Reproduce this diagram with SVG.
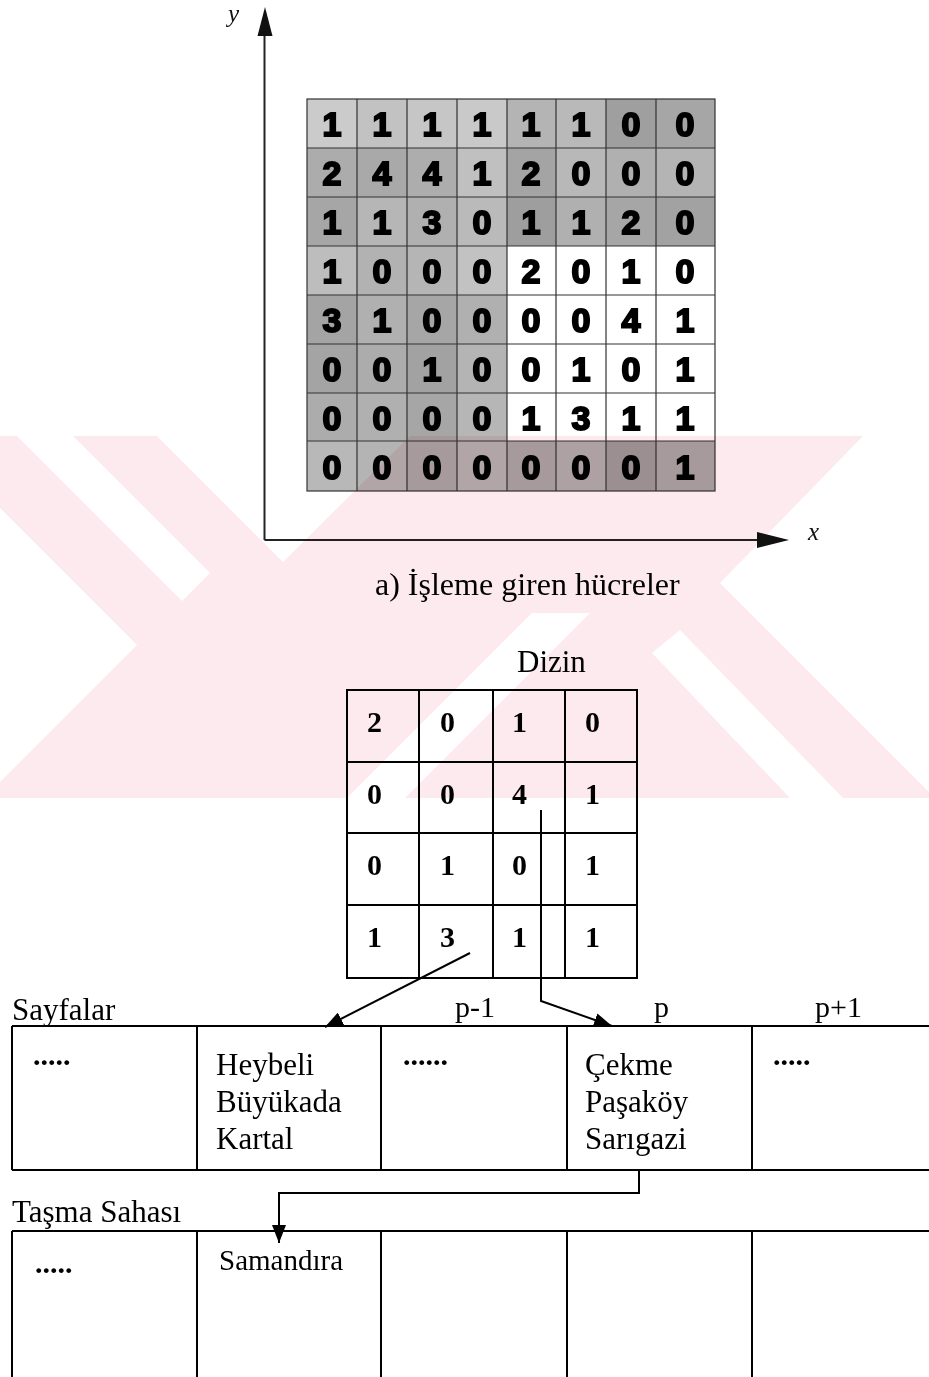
<svg xmlns="http://www.w3.org/2000/svg" width="929" height="1377" viewBox="0 0 929 1377">
<defs>
<style>
.t{font-family:"Liberation Serif","Times New Roman",serif;fill:#000}
.it{font-family:"Liberation Serif","Times New Roman",serif;font-style:italic;font-size:25px;fill:#111}
.g{font-family:"Liberation Sans",Arial,sans-serif;font-weight:bold;font-size:34px;fill:#000;stroke:#000;stroke-width:2;text-anchor:middle}
.d{font-family:"Liberation Serif","Times New Roman",serif;font-weight:bold;font-size:30px;fill:#000}
.ln{stroke:#000;stroke-width:2;fill:none}
.ax{stroke:#222;stroke-width:2;fill:none}
.gl{stroke:#333;stroke-width:1.2;fill:none}
.wm{fill:#fdeaee}
.wc{fill:#fff}
.dots{font-family:"Liberation Serif","Times New Roman",serif;font-weight:bold;font-size:30px}
</style>
<marker id="ah" markerUnits="userSpaceOnUse" markerWidth="18" markerHeight="14" refX="18" refY="7" orient="auto">
<path d="M0,0 L18,7 L0,14 z" fill="#000"/>
</marker>
</defs>
<rect width="929" height="1377" fill="#fff"/>

<g id="axes">
<line class="ax" x1="264.5" y1="34" x2="264.5" y2="540"/>
<line class="ax" x1="264.5" y1="540" x2="760" y2="540"/>
<polygon points="265,7 257.5,36 272.5,36" fill="#111"/>
<polygon points="789,540 757,532 757,548" fill="#111"/>
<text class="it" x="228" y="22">y</text>
<text class="it" x="808" y="540">x</text>
</g>

<g id="grid">
<g id="grid-cells">
<rect x="307" y="99" width="50" height="49" fill="#cbcbcb"/>
<rect x="357" y="99" width="50" height="49" fill="#c2c2c2"/>
<rect x="407" y="99" width="50" height="49" fill="#c6c6c6"/>
<rect x="457" y="99" width="50" height="49" fill="#c9c9c9"/>
<rect x="507" y="99" width="49" height="49" fill="#b4b4b4"/>
<rect x="556" y="99" width="50" height="49" fill="#b9b9b9"/>
<rect x="606" y="99" width="50" height="49" fill="#9f9f9f"/>
<rect x="656" y="99" width="59" height="49" fill="#a6a6a6"/>

<rect x="307" y="148" width="50" height="49" fill="#acacac"/>
<rect x="357" y="148" width="50" height="49" fill="#a9a9a9"/>
<rect x="407" y="148" width="50" height="49" fill="#adadad"/>
<rect x="457" y="148" width="50" height="49" fill="#c0c0c0"/>
<rect x="507" y="148" width="49" height="49" fill="#a4a4a4"/>
<rect x="556" y="148" width="50" height="49" fill="#b8b8b8"/>
<rect x="606" y="148" width="50" height="49" fill="#b0b0b0"/>
<rect x="656" y="148" width="59" height="49" fill="#b4b4b4"/>

<rect x="307" y="197" width="50" height="49" fill="#a6a6a6"/>
<rect x="357" y="197" width="50" height="49" fill="#b6b6b6"/>
<rect x="407" y="197" width="50" height="49" fill="#b0b0b0"/>
<rect x="457" y="197" width="50" height="49" fill="#bababa"/>
<rect x="507" y="197" width="49" height="49" fill="#9e9e9e"/>
<rect x="556" y="197" width="50" height="49" fill="#b0b0b0"/>
<rect x="606" y="197" width="50" height="49" fill="#a6a6a6"/>
<rect x="656" y="197" width="59" height="49" fill="#a2a2a2"/>

<rect x="307" y="246" width="50" height="49" fill="#bdbdbd"/>
<rect x="357" y="246" width="50" height="49" fill="#b2b2b2"/>
<rect x="407" y="246" width="50" height="49" fill="#b5b5b5"/>
<rect x="457" y="246" width="50" height="49" fill="#c2c2c2"/>

<rect x="307" y="295" width="50" height="49" fill="#a4a4a4"/>
<rect x="357" y="295" width="50" height="49" fill="#b0b0b0"/>
<rect x="407" y="295" width="50" height="49" fill="#a6a6a6"/>
<rect x="457" y="295" width="50" height="49" fill="#b0b0b0"/>

<rect x="307" y="344" width="50" height="49" fill="#a4a4a4"/>
<rect x="357" y="344" width="50" height="49" fill="#acacac"/>
<rect x="407" y="344" width="50" height="49" fill="#a2a2a2"/>
<rect x="457" y="344" width="50" height="49" fill="#b4b4b4"/>

<rect x="307" y="393" width="50" height="48" fill="#acacac"/>
<rect x="357" y="393" width="50" height="48" fill="#b0b0b0"/>
<rect x="407" y="393" width="50" height="48" fill="#a6a6a6"/>
<rect x="457" y="393" width="50" height="48" fill="#b6b6b6"/>

<rect x="307" y="441" width="50" height="50" fill="#b8b8b8"/>
<rect x="357" y="441" width="50" height="50" fill="#b4b4b4"/>
<rect x="407" y="441" width="50" height="50" fill="#a8a8a8"/>
<rect x="457" y="441" width="50" height="50" fill="#b4b4b4"/>
<rect x="507" y="441" width="49" height="50" fill="#a8a8a8"/>
<rect x="556" y="441" width="50" height="50" fill="#b0b0b0"/>
<rect x="606" y="441" width="50" height="50" fill="#9c9c9c"/>
<rect x="656" y="441" width="59" height="50" fill="#a8a8a8"/>
</g>
<g id="grid-lines">
<rect class="gl" x="307" y="99" width="408" height="392" stroke-width="1.6"/>
<path class="gl" d="M357,99V491 M407,99V491 M457,99V491 M507,99V491 M556,99V491 M606,99V491 M656,99V491 M307,148H715 M307,197H715 M307,246H715 M307,295H715 M307,344H715 M307,393H715 M307,441H715"/>
</g>
<g id="grid-digits">
<text class="g" x="332" y="136">1</text><text class="g" x="382" y="136">1</text><text class="g" x="432" y="136">1</text><text class="g" x="482" y="136">1</text><text class="g" x="531" y="136">1</text><text class="g" x="581" y="136">1</text><text class="g" x="631" y="136">0</text><text class="g" x="685" y="136">0</text>
<text class="g" x="332" y="185">2</text><text class="g" x="382" y="185">4</text><text class="g" x="432" y="185">4</text><text class="g" x="482" y="185">1</text><text class="g" x="531" y="185">2</text><text class="g" x="581" y="185">0</text><text class="g" x="631" y="185">0</text><text class="g" x="685" y="185">0</text>
<text class="g" x="332" y="234">1</text><text class="g" x="382" y="234">1</text><text class="g" x="432" y="234">3</text><text class="g" x="482" y="234">0</text><text class="g" x="531" y="234">1</text><text class="g" x="581" y="234">1</text><text class="g" x="631" y="234">2</text><text class="g" x="685" y="234">0</text>
<text class="g" x="332" y="283">1</text><text class="g" x="382" y="283">0</text><text class="g" x="432" y="283">0</text><text class="g" x="482" y="283">0</text><text class="g" x="531" y="283">2</text><text class="g" x="581" y="283">0</text><text class="g" x="631" y="283">1</text><text class="g" x="685" y="283">0</text>
<text class="g" x="332" y="332">3</text><text class="g" x="382" y="332">1</text><text class="g" x="432" y="332">0</text><text class="g" x="482" y="332">0</text><text class="g" x="531" y="332">0</text><text class="g" x="581" y="332">0</text><text class="g" x="631" y="332">4</text><text class="g" x="685" y="332">1</text>
<text class="g" x="332" y="381">0</text><text class="g" x="382" y="381">0</text><text class="g" x="432" y="381">1</text><text class="g" x="482" y="381">0</text><text class="g" x="531" y="381">0</text><text class="g" x="581" y="381">1</text><text class="g" x="631" y="381">0</text><text class="g" x="685" y="381">1</text>
<text class="g" x="332" y="430">0</text><text class="g" x="382" y="430">0</text><text class="g" x="432" y="430">0</text><text class="g" x="482" y="430">0</text><text class="g" x="531" y="430">1</text><text class="g" x="581" y="430">3</text><text class="g" x="631" y="430">1</text><text class="g" x="685" y="430">1</text>
<text class="g" x="332" y="479">0</text><text class="g" x="382" y="479">0</text><text class="g" x="432" y="479">0</text><text class="g" x="482" y="479">0</text><text class="g" x="531" y="479">0</text><text class="g" x="581" y="479">0</text><text class="g" x="631" y="479">0</text><text class="g" x="685" y="479">1</text>
</g>
</g>

<text id="caption" class="t" x="375" y="595" font-size="32">a) İşleme giren hücreler</text>

<g id="dizin">
<text class="t" x="517" y="672" font-size="31">Dizin</text>
<rect class="ln" x="347" y="690" width="290" height="288"/>
<path class="ln" d="M419,690V978 M493,690V978 M565,690V978 M347,762H637 M347,833H637 M347,905H637"/>
<text class="d" x="367" y="732">2</text><text class="d" x="440" y="732">0</text><text class="d" x="512" y="732">1</text><text class="d" x="585" y="732">0</text>
<text class="d" x="367" y="804">0</text><text class="d" x="440" y="804">0</text><text class="d" x="512" y="804">4</text><text class="d" x="585" y="804">1</text>
<text class="d" x="367" y="875">0</text><text class="d" x="440" y="875">1</text><text class="d" x="512" y="875">0</text><text class="d" x="585" y="875">1</text>
<text class="d" x="367" y="947">1</text><text class="d" x="440" y="947">3</text><text class="d" x="512" y="947">1</text><text class="d" x="585" y="947">1</text>
</g>

<g id="sayfalar">
<text class="t" x="12" y="1020" font-size="31">Sayfalar</text>
<text class="t" x="455" y="1017" font-size="30">p-1</text>
<text class="t" x="654" y="1017" font-size="30">p</text>
<text class="t" x="815" y="1017" font-size="30">p+1</text>
<path class="ln" d="M12,1026H929 M12,1170H929 M12,1026V1170 M197,1026V1170 M381,1026V1170 M567,1026V1170 M752,1026V1170"/>
<text class="dots" x="33" y="1065">.....</text>
<text class="t" font-size="31"><tspan x="216" y="1075">Heybeli</tspan><tspan x="216" y="1112">Büyükada</tspan><tspan x="216" y="1149">Kartal</tspan></text>
<text class="dots" x="403" y="1065">......</text>
<text class="t" font-size="31"><tspan x="585" y="1075">Çekme</tspan><tspan x="585" y="1112">Paşaköy</tspan><tspan x="585" y="1149">Sarıgazi</tspan></text>
<text class="dots" x="773" y="1065">.....</text>
</g>

<g id="tasma">
<text class="t" x="12" y="1222" font-size="31">Taşma Sahası</text>
<path class="ln" d="M12,1231H929 M12,1231V1377 M197,1231V1377 M381,1231V1377 M567,1231V1377 M752,1231V1377"/>
<text class="dots" x="35" y="1273">.....</text>
<text class="t" x="219" y="1270" font-size="29">Samandıra</text>
</g>

<g id="connectors">
<line class="ln" x1="470" y1="953" x2="325" y2="1027" marker-end="url(#ah)"/>
<polyline class="ln" points="541,810 541,1001 612,1026" marker-end="url(#ah)"/>
<polyline class="ln" points="639,1170 639,1193 279,1193 279,1243" marker-end="url(#ah)"/>
</g>

<g id="watermark" style="mix-blend-mode:multiply">
<rect class="wm" x="0" y="436" width="929" height="362"/>
<polygon class="wc" points="17,436 73,436 210,573 182,601"/>
<polygon class="wc" points="0,508 137,645 0,782"/>
<polygon class="wc" points="157,436 410,436 283,562"/>
<polygon class="wc" points="863,436 929,436 929,792 720,583"/>
<polygon class="wc" points="652,653 680,630 843,798 790,798"/>
<polygon class="wc" points="347,798 405,798 590,613 532,613"/>
</g>
</svg>
